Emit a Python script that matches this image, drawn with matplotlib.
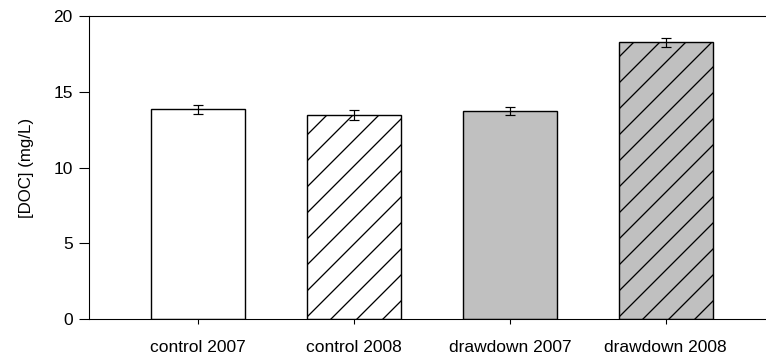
import matplotlib
matplotlib.use("Agg")
import matplotlib.pyplot as plt

# DOC concentrations by treatment and year
categories = ["control 2007", "control 2008", "drawdown 2007", "drawdown 2008"]
doc_mean = [13.85, 13.45, 13.72, 18.27]
doc_err = [0.30, 0.33, 0.26, 0.31]
fill_colors = ["white", "white", "#c0c0c0", "#c0c0c0"]
hatches = ["", "//", "", "//"]

plt.rcParams["font.family"] = ["Liberation Sans", "DejaVu Sans"]
plt.rcParams["hatch.linewidth"] = 0.6

dpi = 156
fig = plt.figure(figsize=(766 / dpi, 362 / dpi), dpi=dpi)
ax = fig.add_axes([0.1166, 0.118, 0.8948, 0.8378])

x = range(len(categories))
for i in x:
    ax.bar(i, doc_mean[i], width=0.6, color=fill_colors[i],
           edgecolor="black", linewidth=0.65, hatch=hatches[i], zorder=2)
ax.errorbar(list(x), doc_mean, yerr=doc_err, fmt="none", ecolor="black",
            elinewidth=0.55, capsize=2.5, capthick=0.55, zorder=3)

ax.set_xlim(-0.699, 3.699)
ax.set_ylim(0, 20)
ax.set_yticks([0, 5, 10, 15, 20])
ax.set_xticks(list(x))
ax.set_xticklabels(categories)
ax.set_ylabel("[DOC] (mg/L)", fontsize=7.8, labelpad=9.0)

ax.tick_params(axis="y", direction="out", length=4.6, width=0.5,
               labelsize=8.0, pad=3)
ax.tick_params(axis="x", direction="out", length=2.3, width=0.5,
               labelsize=8.0, pad=7.2)
for side in ["left", "bottom", "top", "right"]:
    ax.spines[side].set_linewidth(0.5)
    ax.spines[side].set_color("black")

fig.savefig("out.png", dpi=dpi)
